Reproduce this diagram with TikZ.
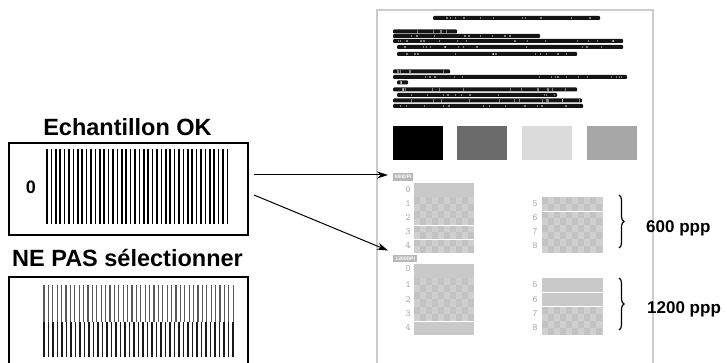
\documentclass[tikz,border=0pt]{standalone}
\usepackage{fontspec}
\setmainfont{Liberation Sans}
\usetikzlibrary{arrows.meta,decorations.pathreplacing}

\definecolor{pageedge}{gray}{0.80}
\definecolor{inkbar}{gray}{0.08}
\definecolor{patbase}{gray}{0.81}
\definecolor{patdark}{gray}{0.765}
\definecolor{patsolid}{gray}{0.79}
\definecolor{digitgray}{gray}{0.64}
\definecolor{labelgray}{gray}{0.72}

\tikzset{
  panel/.style={draw, line width=2pt, inner sep=0pt, anchor=north west},
  paneltitle/.style={font=\bfseries\fontsize{23.5}{24}\selectfont, anchor=base, inner sep=0pt},
  ppplabel/.style={font=\bfseries\fontsize{17}{18}\selectfont, anchor=base west, inner sep=0pt},
  dpilabel/.style={fill=labelgray, text=white, font=\bfseries\fontsize{5}{5}\selectfont,
                   inner sep=0pt, anchor=north west},
  rowdigit/.style={text=digitgray, font=\ttfamily\fontsize{9.5}{9.5}\selectfont, inner sep=0pt},
  pointer/.style={line width=1pt, -{Stealth[length=11pt,width=7pt]}},
  bracket/.style={decorate, decoration={brace, amplitude=5pt}, line width=1.2pt},
}

% one blurred line of printed text: dark strip broken by a few word gaps
\newcommand\inkline[3]{%
  \fill[inkbar, rounded corners=1pt] (#1,#3) rectangle (#2,#3+4);
  \pgfmathtruncatemacro\gapcount{(#2-#1)/14}
  \foreach \k in {1,...,\gapcount}{%
    \pgfmathsetmacro\gapx{#1+3+rnd*(#2-#1-6)}
    \fill[white, opacity=0.45] (\gapx,#3+0.6) rectangle ++(1.2,2.8);
  }}

% one checkered row of the nozzle test pattern
\newcommand\checkrow[4]{%
  \fill[patbase] (#1,#2) rectangle (#3,#4);
  \pgfmathsetmacro\chkh{(#4-#2)/2}
  \foreach \i in {0,2,...,8}{%
    \fill[patdark] ({#1+\i*6},#2) rectangle ++(6,\chkh);
    \fill[patdark] ({#1+(\i+1)*6},{#2+\chkh}) rectangle ++(6,\chkh);
  }}

% one plain row of the nozzle test pattern
\newcommand\solidrow[4]{\fill[patsolid] (#1,#2) rectangle (#3,#4);}

\begin{document}
\begin{tikzpicture}[x=1pt, y=-1pt]
\pgfmathsetseed{17}
\useasboundingbox (0,0) rectangle (727,363);
\fill[white] (0,0) rectangle (727,363);

% ---------- left: good sample ----------
\node[paneltitle] (oktitle) at (127.5,136) {Echantillon OK};
\node[panel, minimum width=239pt, minimum height=92pt] (okbox) at (8,142) {};
\node[font=\bfseries\fontsize{18}{18}\selectfont, inner sep=0pt] (okzero) at (31,187) {0};
\foreach \i in {0,...,41}
  \draw[line width=1.6pt] ({47+\i*4.4},149) -- ++(0,75);

% ---------- left: rejected sample ----------
\node[paneltitle] (badtitle) at (127.5,266) {NE PAS sélectionner};
\node[panel, minimum width=239pt, minimum height=92pt] (badbox) at (8,276) {};
\foreach \i in {0,...,43}
  \draw[line width=1.3pt, black!65] ({44+\i*4.4},285) -- ++(0,37);
\foreach \i in {0,...,42}
  \draw[line width=1.5pt, black!90] ({44+\i*4.5},322) -- ++(0,35);

% ---------- right: printed check sheet ----------
\draw[pageedge, line width=1.4pt] (377,10) rectangle (653,364);

% title and instructions
\inkline{433}{600}{16}
\inkline{393}{457}{29.5}
\inkline{393}{540}{34}
\inkline{393}{623}{39}
\inkline{397}{623}{45}
\inkline{397}{577}{52}
\inkline{393}{450}{69.5}
\inkline{393}{627}{75}
\inkline{397}{408}{80.5}
\inkline{393}{577}{87.5}
\inkline{397}{557}{93}
\inkline{393}{582}{98.5}
\inkline{393}{583}{104}

% colour blocks
\fill[black]    (393,126) rectangle (443,160);
\fill[black!58] (457,126) rectangle (507,160);
\fill[black!14] (522,126) rectangle (572,160);
\fill[black!35] (587,126) rectangle (637,160);

% 600 dpi pattern
\node[dpilabel, minimum width=20pt, minimum height=8pt] (dpisix) at (393,173) {600DPI};
\solidrow{414}{183}{474}{197}
\checkrow{414}{197}{474}{211}
\checkrow{414}{211}{474}{225}
\checkrow{414}{225}{474}{239}
\checkrow{414}{239}{474}{253}
\draw[white, line width=0.8pt] (414,225) -- (474,225);
\draw[white, line width=0.5pt] (414,239) -- (474,239);
\foreach \d/\y in {0/190,1/204,2/218,3/232,4/246}
  \node[rowdigit] (sixl\d) at (408,\y) {\d};
\checkrow{542}{197}{603}{211}
\checkrow{542}{211}{603}{225}
\checkrow{542}{225}{603}{239}
\checkrow{542}{239}{603}{253}
\draw[white, line width=0.8pt] (542,211) -- (603,211);
\foreach \d/\y in {5/204,6/218,7/232,8/246}
  \node[rowdigit] (sixr\d) at (535,\y) {\d};

% 1200 dpi pattern
\node[dpilabel, minimum width=24pt, minimum height=7pt] (dpitwelve) at (393,255) {1200DPI};
\solidrow{414}{264}{474}{278}
\checkrow{414}{278}{474}{292.3}
\checkrow{414}{292.3}{474}{306.6}
\checkrow{414}{306.6}{474}{321}
\solidrow{414}{321}{474}{335}
\draw[white, line width=0.8pt] (414,321) -- (474,321);
\foreach \d/\y in {0/269,1/285,2/299.5,3/313.8,4/328}
  \node[rowdigit] (twl\d) at (408,\y) {\d};
\solidrow{542}{278}{603}{292.5}
\solidrow{542}{292.5}{603}{306.8}
\checkrow{542}{306.8}{603}{321}
\checkrow{542}{321}{603}{335}
\draw[white, line width=0.8pt] (542,292.5) -- (603,292.5);
\draw[white, line width=0.8pt] (542,306.8) -- (603,306.8);
\foreach \d/\y in {5/285,6/299.5,7/313.8,8/328}
  \node[rowdigit] (twr\d) at (535,\y) {\d};

% resolution brackets
\draw[bracket] (619,195) -- (619,248);
\node[ppplabel] (sixppp) at (646,233) {600 ppp};
\draw[bracket] (619,278) -- (619,330);
\node[ppplabel] (twelveppp) at (647,313) {1200 ppp};

% pointers from the good sample to the sheet
\coordinate (okout) at (254,175);
\coordinate (okdown) at (254,195);
\coordinate (sixin) at (388,175);
\coordinate (twelvein) at (388,250.5);
\draw[pointer] (okout) -- (sixin);
\draw[pointer] (okdown) -- (twelvein);
\end{tikzpicture}
\end{document}
